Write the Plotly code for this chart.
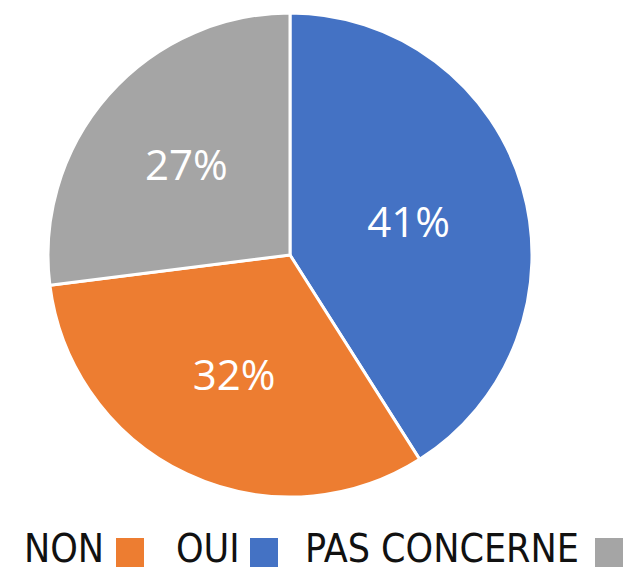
import plotly.graph_objects as go

W, H = 628, 572

categories = ["OUI", "NON", "PAS CONCERNE"]
values = [41, 32, 27]
colors = ["#4472C4", "#ED7D31", "#A5A5A5"]

legend_order = ["NON", "OUI", "PAS CONCERNE"]
legend_text_x = [23, 175, 304]      # px left edge of legend labels
legend_box_x = [116, 250, 595]      # px left edge of legend squares

fig = go.Figure(go.Pie(
    labels=categories,
    values=values,
    sort=False,
    direction="clockwise",
    rotation=0,
    marker=dict(colors=colors, line=dict(color="white", width=3)),
    texttemplate="%{percent:.0%}",
    textposition="inside",
    insidetextorientation="horizontal",
    textfont=dict(family="Open Sans, Noto Sans, sans-serif", size=42, color="white"),
    hoverinfo="label+percent",
    showlegend=False,
    domain=dict(x=[48 / W, 532 / W], y=[1 - 497 / H, 1 - 13 / H]),
))

color_of = dict(zip(categories, colors))
shapes = []
annotations = []
for name, tx, bx in zip(legend_order, legend_text_x, legend_box_x):
    annotations.append(dict(
        x=tx / W, y=0, xref="paper", yref="paper",
        xanchor="left", yanchor="bottom", showarrow=False, text=name,
        borderpad=0,
        font=dict(family="Liberation Sans Narrow, DejaVu Sans Condensed, Roboto, sans-serif",
                  size=39, color="#111111"),
    ))
    shapes.append(dict(
        type="rect", xref="paper", yref="paper",
        x0=bx / W, x1=(bx + 28) / W, y0=1 - 567 / H, y1=1 - 538 / H,
        fillcolor=color_of[name], line=dict(width=0),
    ))

fig.update_layout(
    width=W, height=H,
    margin=dict(l=0, r=0, t=0, b=0),
    paper_bgcolor="white", plot_bgcolor="white",
    shapes=shapes, annotations=annotations,
)

fig.write_html("out.html", config={"displayModeBar": False},
               post_script="document.body.style.margin='0px';document.body.style.overflow='hidden';")
